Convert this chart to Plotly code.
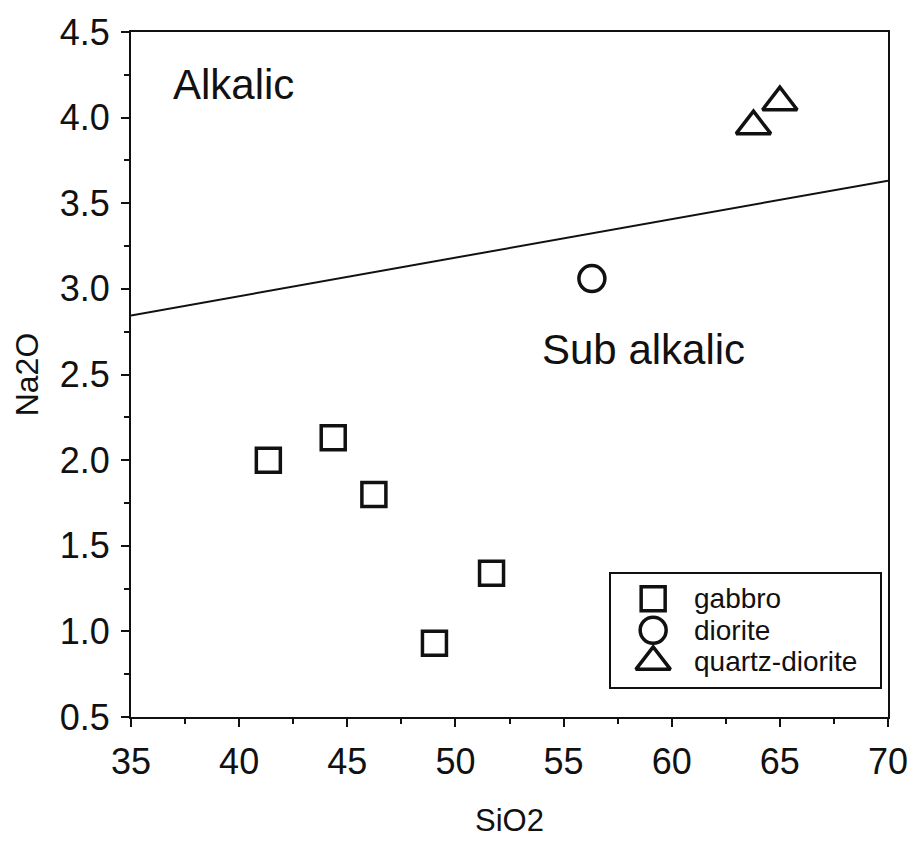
import plotly.graph_objects as go

# Whole-rock compositions (wt%)
gabbro_sio2 = [41.35, 44.35, 46.23, 49.03, 51.67]
gabbro_na2o = [2.00, 2.13, 1.80, 0.93, 1.34]
diorite_sio2 = [56.31]
diorite_na2o = [3.06]
qdiorite_sio2 = [63.78, 65.0]
qdiorite_na2o = [3.95, 4.09]

# Alkalic / sub-alkalic dividing line
boundary_sio2 = [35, 70]
boundary_na2o = [2.845, 3.632]

legend_labels = ["gabbro", "diorite", "quartz-diorite"]
x_ticks = [35, 40, 45, 50, 55, 60, 65, 70]
y_ticks = [0.5, 1.0, 1.5, 2.0, 2.5, 3.0, 3.5, 4.0, 4.5]

FONT = "Liberation Sans, Arial, Helvetica, sans-serif"
INK = "#111111"

styles = {
    "gabbro": dict(symbol="square-open", size=24, color=INK, line=dict(width=3.5, color=INK)),
    "diorite": dict(symbol="circle-open", size=26, color=INK, line=dict(width=3.5, color=INK)),
    "quartz-diorite": dict(symbol="triangle-up-open", size=30, color=INK, line=dict(width=3.5, color=INK)),
}

fig = go.Figure()

fig.add_trace(go.Scatter(x=boundary_sio2, y=boundary_na2o, mode="lines",
                         line=dict(color=INK, width=2), showlegend=False, hoverinfo="skip"))

groups = [
    ("gabbro", gabbro_sio2, gabbro_na2o),
    ("diorite", diorite_sio2, diorite_na2o),
    ("quartz-diorite", qdiorite_sio2, qdiorite_na2o),
]
for name, xs, ys in groups:
    fig.add_trace(go.Scatter(x=xs, y=ys, mode="markers", name=name,
                             marker=styles[name], showlegend=False))

# Boxed key drawn in its own small axes (units: pixels across, rows down)
key_symbol_x = 43
key_text_x = 82
for row, name in enumerate(legend_labels):
    fig.add_trace(go.Scatter(x=[key_symbol_x], y=[row], mode="markers",
                             marker=styles[name], xaxis="x2", yaxis="y2",
                             showlegend=False, hoverinfo="skip"))
    fig.add_annotation(x=key_text_x, y=row, xref="x2", yref="y2", text=name,
                       showarrow=False, xanchor="left", yanchor="middle",
                       font=dict(family=FONT, size=28, color=INK))

# Field labels
fig.add_annotation(x=39.76, y=4.195, text="Alkalic", showarrow=False,
                   font=dict(family=FONT, size=42, color=INK))
fig.add_annotation(x=58.68, y=2.647, text="Sub alkalic", showarrow=False,
                   font=dict(family=FONT, size=42, color=INK))

axis_common = dict(
    showline=True, linecolor=INK, linewidth=2, mirror=True,
    ticks="outside", ticklen=8, tickwidth=2, tickcolor=INK,
    showgrid=False, zeroline=False,
    tickfont=dict(family=FONT, size=36, color=INK),
)

fig.update_layout(
    width=920, height=844,
    margin=dict(l=131, r=25, t=25, b=124),
    paper_bgcolor="white", plot_bgcolor="white",
    font=dict(family=FONT, color=INK),
    xaxis=dict(
        range=[35, 70], tickvals=x_ticks, ticktext=[str(v) for v in x_ticks],
        minor=dict(dtick=2.5, ticks="outside", ticklen=5, tickwidth=2, tickcolor=INK),
        title=dict(text="SiO2", font=dict(family=FONT, size=31, color=INK), standoff=28),
        ticklabelstandoff=4,
        **axis_common,
    ),
    yaxis=dict(
        range=[0.5, 4.5], tickvals=y_ticks, ticktext=[f"{v:.1f}" for v in y_ticks],
        minor=dict(dtick=0.25, ticks="outside", ticklen=5, tickwidth=2, tickcolor=INK),
        title=dict(text="Na2O", font=dict(family=FONT, size=32, color=INK), standoff=12),
        ticklabelstandoff=4,
        **axis_common,
    ),
    xaxis2=dict(domain=[0.6335, 0.9895], anchor="y2", range=[0, 272],
                showline=True, linecolor=INK, linewidth=2, mirror=True,
                showticklabels=False, ticks="", showgrid=False, zeroline=False,
                fixedrange=True),
    yaxis2=dict(domain=[0.0432, 0.2086], anchor="x2", range=[2.81, -0.78],
                showline=True, linecolor=INK, linewidth=2, mirror=True,
                showticklabels=False, ticks="", showgrid=False, zeroline=False,
                fixedrange=True),
)

fig.write_html("out.html")
